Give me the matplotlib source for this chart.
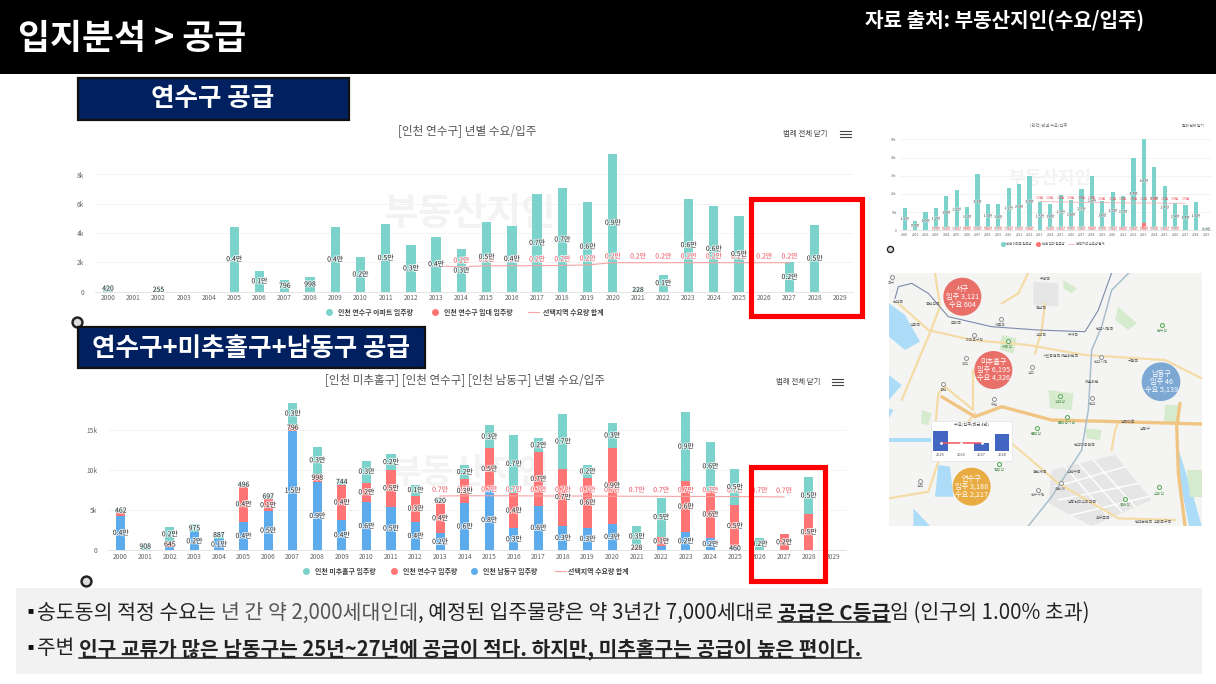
import numpy as np
import matplotlib
matplotlib.use("Agg")
import matplotlib.pyplot as plt
import matplotlib.patheffects as pe
from matplotlib.patches import Rectangle, Circle, Polygon

plt.rcParams['font.family'] = ['Noto Sans CJK KR', 'DejaVu Sans']

years = list(range(2000, 2030))

# 연수구
ys_apt = [420, 0, 255, 0, 0, 4430, 1430, 796, 998, 4390, 2340, 4590, 3180, 3750, 2890,
          4750, 4480, 6660, 7110, 6140, 9410, 228, 1160, 6360, 5840, 5140, 0, 2000, 4520, 0]
ys_demand = [None] * 13 + [1750, 1700, 1770, 1770, 1780, 1790, 1830, 1980, 1980, 1980, 1980, 1980, 1980, 1980, 1980, None, None]
ys_demand_lbl = [''] * 14 + ['0.2만'] * 14 + ['', '']

# 미추홀구 + 연수구 + 남동구
nd = [4320, 0, 400, 2245, 1450, 3550, 4900, 14880, 8550, 3780, 6030, 5440, 3570, 2120, 5940,
      7550, 2740, 5570, 3080, 2830, 3330, 200, 540, 2240, 1550, 460, 0, 0, 0, 0]
ys = [390, 0, 645, 0, 0, 4370, 1450, 796, 998, 4370, 2410, 4580, 3250, 3740, 2910,
      5200, 4400, 6650, 7100, 6230, 9470, 228, 1160, 6410, 5840, 5140, 0, 2000, 4520, 0]
mc = [462, 908, 1900, 975, 887, 496, 697, 2750, 3350, 744, 2740, 1950, 1370, 620, 1790,
      2830, 7270, 1750, 6780, 1540, 3040, 2590, 4870, 8560, 6160, 4540, 1580, 0, 4580, 0]
all_demand = [None] * 13 + [6770, 6800, 6800, 6790, 6780, 6770, 6760, 6750, 6740, 6730, 6720, 6710, 6700, 6680, 6650, None, None]
no_label = {('nd', 2002), ('nd', 2021), ('nd', 2022), ('ys', 2000)}

# 인천 전체 (오른쪽 위)
ic_total = [12500, 5100, 10300, 12500, 18900, 22200, 13000, 31000, 14300, 14300, 23400, 25300, 30000, 15400, 14700,
            19400, 16700, 22700, 30000, 16000, 20900, 18900, 39700, 50200, 34600, 24400, 14800, 13900, 15800, 1000]
ic_rent = [0, 0, 0, 300, 500, 600, 1800, 300, 1500, 300, 900, 500, 1500, 0, 500,
           600, 300, 500, 2000, 300, 600, 1500, 500, 4000, 300, 700, 300, 0, 0, 0]
ic_demand = [None] * 13 + [15800, 15700, 15600, 15500, 15400, 15300, 15200, 15100, 15100, 15000, 15000, 15000, 14900, 14900, 14900, None, None]

inset_years = ['2025', '2026', '2027', '2028']
inset_supply = [5140, 0, 2000, 4520]
inset_demand = [1980, 1980, 1980]

TEAL = '#7bd3cb'
RED = '#ff7575'
BLUE = '#5cabec'
LINE = '#f7a3a3'
W, H = 1216, 684

fig = plt.figure(figsize=(W / 100, H / 100), dpi=100, facecolor='white')


def px_axes(left, top, right, bottom, z=2):
    ax = fig.add_axes([left / W, 1 - bottom / H, (right - left) / W, (bottom - top) / H], zorder=z)
    ax.patch.set_alpha(0)
    return ax


bg = px_axes(0, 0, W, H, 0)
bg.set_xlim(0, W)
bg.set_ylim(H, 0)
bg.axis('off')
top = px_axes(0, 0, W, H, 10)
top.set_xlim(0, W)
top.set_ylim(H, 0)
top.axis('off')

halo = [pe.withStroke(linewidth=1.4, foreground='white', alpha=0.75)]


def man(v):
    return str(v) if v < 1000 else f'{v / 10000:.1f}만'


def style_chart(ax, ticks, ticklabels, fs, ypad=8):
    ax.set_yticks(ticks)
    ax.set_yticklabels(ticklabels, fontsize=fs, color='#666666')
    ax.set_xticks(range(len(years)))
    ax.set_xticklabels(years, fontsize=fs, color='#666666')
    ax.tick_params(length=0, pad=2)
    ax.tick_params(axis='y', pad=ypad)
    ax.grid(axis='y', color='#f3f3f3', lw=0.7)
    ax.set_axisbelow(True)
    for s in ['top', 'left', 'right']:
        ax.spines[s].set_visible(False)
    ax.spines['bottom'].set_color('#e4e4e4')
    ax.spines['bottom'].set_linewidth(0.7)


# ---- 연수구 chart
ax1 = px_axes(95.4, 150, 852.6, 291.7)
ax1.set_xlim(-0.5, 29.5)
ax1.set_ylim(0, 141.7 / 0.01465)
style_chart(ax1, [0, 2000, 4000, 6000, 8000], ['0', '2k', '4k', '6k', '8k'], 4.8)
ax1.bar(range(30), ys_apt, width=0.37, color=TEAL)
ax1.plot(range(30), [np.nan if v is None else v for v in ys_demand], color=LINE, lw=0.8)
for i, v in enumerate(ys_demand):
    if v is not None and ys_demand_lbl[i]:
        ax1.annotate(ys_demand_lbl[i], (i, v), xytext=(0, 4.5), textcoords='offset points', ha='center',
                     va='center', fontsize=5, color='#ee5a66', path_effects=halo)
for i, v in enumerate(ys_apt):
    if v > 0:
        ax1.text(i, v / 2, man(v), ha='center', va='center', fontsize=5, color='#333333', path_effects=halo)

# ---- 3개 구 chart
ax2 = px_axes(108.4, 398, 845.5, 550.3)
ax2.set_xlim(-0.5, 29.5)
ax2.set_ylim(0, 152.3 / 0.00802)
style_chart(ax2, [0, 5000, 10000, 15000], ['0', '5k', '10k', '15k'], 4.8)
bottom = np.zeros(30)
for name, vals, col in [('nd', nd, BLUE), ('ys', ys, RED), ('mc', mc, TEAL)]:
    ax2.bar(range(30), vals, bottom=bottom, width=0.37, color=col)
    for i, v in enumerate(vals):
        if v > 0 and (name, years[i]) not in no_label:
            ax2.text(i, bottom[i] + v / 2, man(v), ha='center', va='center', fontsize=5, color='#333333',
                     zorder=5, path_effects=halo)
    bottom += np.array(vals)
ax2.plot(range(30), [np.nan if v is None else v for v in all_demand], color=LINE, lw=0.8, zorder=3)
for i, v in enumerate(all_demand):
    if v is not None:
        ax2.annotate('0.7만', (i, v), xytext=(0, 4.5), textcoords='offset points', ha='center', va='center',
                     fontsize=5, color='#ee5a66', zorder=4, path_effects=halo)

# ---- 인천 전체 chart
ax3 = px_axes(899.5, 135, 1211.5, 230.3)
ax3.set_xlim(-0.5, 29.5)
ax3.set_ylim(0, 95.3 / 0.00182)
style_chart(ax3, [0, 10000, 20000, 30000, 40000, 50000], ['0', '10k', '20k', '30k', '40k', '50k'], 2.4, ypad=2)
ic_teal = np.array(ic_total) - np.array(ic_rent)
ax3.bar(range(30), ic_rent, width=0.4, color=RED)
ax3.bar(range(30), ic_teal, bottom=ic_rent, width=0.4, color=TEAL)
ax3.plot(range(30), [np.nan if v is None else v for v in ic_demand], color=LINE, lw=0.5)
for i in range(30):
    ax3.text(i, ic_rent[i] + ic_teal[i] / 2, f'{ic_teal[i] / 10000:.1f}만', ha='center', va='center',
             fontsize=2.6, color='#444444', path_effects=[pe.withStroke(linewidth=0.6, foreground='white', alpha=0.7)])
    if ic_rent[i] > 0:
        ax3.text(i, 1000, f'{ic_rent[i] / 10000:.1f}만', ha='center', va='center', fontsize=2.6, color='#d9484f',
                 path_effects=[pe.withStroke(linewidth=0.6, foreground='white', alpha=0.7)])
    if ic_demand[i] is not None:
        ax3.text(i, ic_demand[i] + 2200, f'{ic_demand[i] / 10000:.1f}만', ha='center', va='center', fontsize=2.6,
                 color='#ee5a66')

# ---- map
MAPX = (12, 950)
MAPY = (768, 8)
mp = px_axes(889, 272.7, 1201.7, 526, 1)
mp.set_xlim(*MAPX)
mp.set_ylim(*MAPY)
mp.set_xticks([])
mp.set_yticks([])
mp.patch.set_alpha(1)
mp.set_facecolor('#f4f4f2')
for s in mp.spines.values():
    s.set_visible(False)

water = [[(12, 100), (60, 135), (105, 215), (60, 240), (12, 200)],
         [(12, 315), (50, 345), (12, 390)],
         [(12, 415), (25, 420), (12, 445)],
         [(12, 503), (138, 503), (138, 516), (12, 516)],
         [(160, 585), (195, 590), (205, 680), (150, 680)],
         [(85, 715), (135, 768), (85, 768)],
         [(878, 530), (925, 680), (950, 768), (912, 768), (880, 610)]]
parks = [[(350, 195), (395, 205), (385, 250), (345, 240)],
         [(490, 360), (565, 370), (560, 420), (495, 415)],
         [(700, 110), (755, 160), (730, 180), (690, 150)],
         [(600, 475), (650, 480), (645, 510), (605, 505)],
         [(840, 405), (885, 405), (885, 455), (838, 455)],
         [(535, 30), (575, 55), (560, 70), (535, 55)],
         [(110, 420), (140, 430), (130, 465), (108, 460)],
         [(905, 600), (950, 600), (950, 680), (915, 680)]]
blocks = [[(500, 600), (690, 555), (800, 690), (620, 768), (490, 700)],
          [(445, 35), (520, 40), (520, 110), (445, 105)]]
grid_lines = [[(540, 590), (670, 740)], [(580, 580), (710, 725)], [(625, 570), (750, 710)],
              [(510, 650), (720, 590)], [(520, 690), (760, 640)], [(560, 735), (790, 680)]]
roads = [[(150, 8), (165, 110), (130, 200), (50, 390)],
         [(12, 685), (130, 665), (165, 560), (270, 430)],
         [(430, 225), (600, 255), (840, 270), (950, 325)],
         [(40, 100), (130, 180), (260, 210), (430, 225)],
         [(480, 100), (470, 180), (450, 250)],
         [(380, 520), (520, 640), (700, 745), (870, 750)],
         [(150, 480), (160, 370), (180, 350), (265, 420)],
         [(265, 300), (265, 420)],
         [(430, 8), (400, 70), (350, 100)],
         [(680, 540), (690, 480), (700, 455)]]
main_roads = [[(170, 380), (270, 440), (350, 410), (500, 450), (700, 455), (950, 462)],
              [(885, 400), (875, 470), (880, 610), (900, 768)]]
subway = [[(30, 85), (40, 50), (80, 40), (130, 70), (190, 140), (320, 170), (460, 180), (600, 185), (640, 120), (680, 8)]]
metro2 = [[(730, 10), (680, 60), (650, 170), (620, 240), (610, 420), (590, 540), (500, 680), (430, 768)]]

for p in water:
    mp.add_patch(Polygon(p, closed=True, fc='#acdcf7', ec='none'))
for p in blocks:
    mp.add_patch(Polygon(p, closed=True, fc='#e6e6e6', ec='none'))
for p in parks:
    mp.add_patch(Polygon(p, closed=True, fc='#d6ebce', ec='none'))
for r in grid_lines:
    a = np.array(r)
    mp.plot(a[:, 0], a[:, 1], color='white', lw=1.0)
for r in roads:
    a = np.array(r)
    mp.plot(a[:, 0], a[:, 1], color='#f5dca6', lw=1.6, solid_capstyle='round')
for r in main_roads:
    a = np.array(r)
    mp.plot(a[:, 0], a[:, 1], color='#f0c584', lw=2.4, solid_capstyle='round')
for r in subway:
    a = np.array(r)
    mp.plot(a[:, 0], a[:, 1], color='#7d89ad', lw=0.8)
for r in metro2:
    a = np.array(r)
    mp.plot(a[:, 0], a[:, 1], color='#a9bfcc', lw=1.1)

station_pts = [(20, 22, '북구'), (268, 195, '미추홀구청'), (242, 265, '학익'), (175, 343, '용현'), (328, 388, '주안'),
               (440, 292, '숭의'), (347, 147, '제물포'), (647, 260, '인천시청'), (622, 385, '인천'), (105, 632, '송도'),
               (460, 660, '연수구청'), (527, 640, '원인재')]
park_pts = [(368, 212, '수봉산'), (525, 378, '승학산'), (547, 442, '문학경기장'), (455, 475, '문학산'),
            (830, 165, '만수산'), (822, 652, '소래산'), (720, 687, '봉재산'), (342, 582, '청량산')]
for x, y, t in station_pts:
    mp.scatter([x], [y], s=8, fc='white', ec='#8c8c8c', lw=0.7, zorder=3)
    mp.text(x, y + 16, t, fontsize=2.8, color='#777777', ha='center', va='center')
for x, y, t in park_pts:
    mp.scatter([x], [y], s=8, fc='white', ec='#5cab5c', lw=0.8, zorder=3)
    mp.text(x, y + 18, t, fontsize=2.8, color='#5a9a5a', ha='center', va='center')
for x, y, t in [(480, 28, '부평역'), (470, 115, '동암역'), (470, 195, '간석역'), (565, 195, '부개역'), (660, 178, '인천시청역'),
                (500, 255, '시민공원역'), (555, 258, '예술회관역'), (745, 272, '구월역'), (620, 335, '예술회관'),
                (600, 525, '인천대공원역'), (568, 605, '신연수역'), (465, 605, '원인재역'), (590, 695, '남동인더스파크역'),
                (655, 745, '호구포역'), (775, 755, '인천논현역'), (835, 755, '소래포구역'), (215, 160, '도화역'),
                (145, 102, '동인천역'), (40, 95, '인천역'), (90, 165, '신포역'), (780, 478, '남동구'), (730, 455, '남동대로')]:
    mp.text(x, y, t, fontsize=2.8, color='#5f5f5f', ha='center', va='center')

for cx, cy, r, c, lines in [(232, 80, 57, '#e96f69', ['서구', '입주 3,121', '수요 604']),
                            (325, 300, 57, '#e96f69', ['미추홀구', '입주 6,195', '수요 4,326']),
                            (828, 335, 58, '#7ca8d3', ['남동구', '입주 46', '수요 5,139']),
                            (260, 650, 57, '#e8ac43', ['연수구', '입주 3,188', '수요 2,217'])]:
    mp.add_patch(Circle((cx, cy), r, fc=c, ec='none', zorder=4))
    for k, t in enumerate(lines):
        mp.text(cx, cy - 24 + k * 24, t, fontsize=5.2, color='white', ha='center', va='center', zorder=5)

mp.add_patch(Rectangle((138, 452), 244, 121, fc='white', ec='#dddddd', lw=0.4, zorder=6))
mp.text(260, 463, '수요/입주(최근 4년)', fontsize=3, color='#555555', ha='center', va='center', zorder=7)

ins = px_axes(885 + 136 / 3, 270 + 478 / 3, 885 + 382 / 3, 270 + 542 / 3, 3)
ins.set_xlim(-0.5, 3.5)
ins.set_ylim(0, 64 / 0.0112)
ins.bar(range(4), inset_supply, width=0.7, color='#4266c2')
ins.plot([0, 1, 2], inset_demand, color='#f0555f', lw=1.1, marker='o', ms=1, mec='white', mfc='white')
ins.set_xticks(range(4))
ins.set_xticklabels(inset_years, fontsize=2.8, color='#555555')
ins.set_yticks([])
ins.tick_params(length=0, pad=1.5)
for s in ins.spines.values():
    s.set_visible(False)

# 아이콘 (박스에 반쯤 가려짐)
for x, y, s in [(77, 322, 62), (86, 581, 62), (890, 249, 19)]:
    bg.scatter([x], [y], s=s, color='#222222', zorder=1)
    bg.scatter([x], [y], s=s * 0.3, color='#dddddd', zorder=1.5)

# ---- header, 박스
bg.add_patch(Rectangle((0, 0), W, 74, fc='black', ec='none', zorder=2))
bg.text(18, 38, '입지분석 > 공급', color='white', fontsize=25, fontweight='bold', va='center', ha='left', zorder=3)
bg.text(865, 20, '자료 출처: 부동산지인(수요/입주)', color='white', fontsize=14.5, fontweight='bold', va='center', ha='left', zorder=3)

bg.add_patch(Rectangle((78, 78), 271, 42, fc='#002060', ec='#111111', lw=1.6, zorder=2))
bg.text(213, 98, '연수구 공급', color='white', fontsize=18.4, fontweight='bold', ha='center', va='center', zorder=3)
bg.add_patch(Rectangle((78, 327), 347, 41, fc='#002060', ec='#111111', lw=1.6, zorder=2))
bg.text(251, 348, '연수구+미추홀구+남동구 공급', color='white', fontsize=18.4, fontweight='bold', ha='center', va='center', zorder=3)

# ---- chart titles
bg.text(467, 132, '[인천 연수구] 년별 수요/입주', fontsize=8.4, color='#555555', ha='center', va='center')
bg.text(465, 381, '[인천 미추홀구] [인천 연수구] [인천 남동구] 년별 수요/입주', fontsize=8.3, color='#555555', ha='center', va='center')
bg.text(1049, 125, '[인천] 년별 수요/입주', fontsize=3, color='#777777', ha='center', va='center')
bg.text(1193, 126, '범례 전체 닫기', fontsize=2.6, color='#555555', ha='center', va='center')
bg.text(805, 134, '범례 전체 닫기', fontsize=5.4, color='#444444', ha='center', va='center')
bg.text(798, 382, '범례 전체 닫기', fontsize=5.4, color='#444444', ha='center', va='center')
for hx, hy in [(845, 134), (837, 382)]:
    for d in (-3, 0, 3):
        bg.plot([hx - 5.5, hx + 5.5], [hy + d, hy + d], color='#444444', lw=0.8)

# ---- legends
for x, c, t in [(329, TEAL, '인천 연수구 아파트 입주량'), (435, RED, '인천 연수구 임대 입주량')]:
    bg.scatter([x], [312], s=16, color=c)
    bg.text(x + 9, 312, t, fontsize=5, color='#444444', va='center', fontweight='bold')
bg.plot([528, 539], [312, 312], color=LINE, lw=0.8)
bg.text(543, 312, '선택지역 수요량 합계', fontsize=5, color='#444444', va='center', fontweight='bold')
for x, c, t in [(306, TEAL, '인천 미추홀구 입주량'), (394, RED, '인천 연수구 입주량'), (474, BLUE, '인천 남동구 입주량')]:
    bg.scatter([x], [571], s=16, color=c)
    bg.text(x + 9, 571, t, fontsize=5, color='#444444', va='center', fontweight='bold')
bg.plot([555, 566], [571, 571], color=LINE, lw=0.8)
bg.text(568, 571, '선택지역 수요량 합계', fontsize=5, color='#444444', va='center', fontweight='bold')
bg.scatter([1003], [244], s=7, color=TEAL)
bg.text(1006, 244, '인천 아파트 입주량', fontsize=2.4, color='#555555', va='center')
bg.scatter([1038], [244], s=7, color=RED)
bg.text(1042, 244, '인천 임대 입주량', fontsize=2.4, color='#555555', va='center')
bg.plot([1068, 1074], [244, 244], color=LINE, lw=0.5)
bg.text(1076, 244, '선택지역 수요량 합계', fontsize=2.4, color='#555555', va='center')

# 워터마크
bg.text(470, 213, '부동산지인', fontsize=27, color='#f3f3f3', ha='center', va='center', fontweight='bold')
bg.text(470, 472, '부동산지인', fontsize=25, color='#f3f3f3', ha='center', va='center', fontweight='bold')
bg.text(1050, 178, '부동산지인', fontsize=13, color='#f3f3f3', ha='center', va='center', fontweight='bold')

# 빨간 박스
for x0, y0, x1, y1 in [(750.5, 198.5, 861.5, 315.5), (750.5, 466.5, 824.5, 580.5)]:
    top.add_patch(Rectangle((x0, y0), x1 - x0, y1 - y0, fc='none', ec='#ff0000', lw=3.7))

# ---- bottom text
bg.add_patch(Rectangle((16, 588), 1186, 86, fc='#f2f2f2', ec='none', zorder=2))
renderer = fig.canvas.get_renderer()


def draw_runs(x, y, runs, fs):
    for text, bold, under, col in runs:
        t = bg.text(x, y, text, fontsize=fs, fontweight='bold' if bold else 'normal', color=col, va='center', ha='left', zorder=3)
        w = t.get_window_extent(renderer).width
        if under:
            bg.plot([x, x + w], [y + 9, y + 9], color='#222222', lw=1.1, zorder=3)
        x += w


bg.text(21, 612, '▪', fontsize=13, color='#111111', va='center', zorder=3)
bg.text(21, 648, '▪', fontsize=13, color='#111111', va='center', zorder=3)
draw_runs(37, 613, [('송도동의 적정 수요는 ', False, False, '#222222'),
                    ('년 간 약 2,000세대인데', False, False, '#555555'),
                    (', 예정된 입주물량은 약 3년간 7,000세대로 ', False, False, '#222222'),
                    ('공급은 C등급', True, True, '#222222'),
                    ('임 (인구의 1.00% 초과)', False, False, '#222222')], 14.75)
draw_runs(37, 649, [('주변 ', False, False, '#222222'),
                    ('인구 교류가 많은 남동구는 25년~27년에 공급이 적다. 하지만, 미추홀구는 공급이 높은 편이다.', True, True, '#222222')], 14.6)

fig.savefig('out.png', dpi=100)
